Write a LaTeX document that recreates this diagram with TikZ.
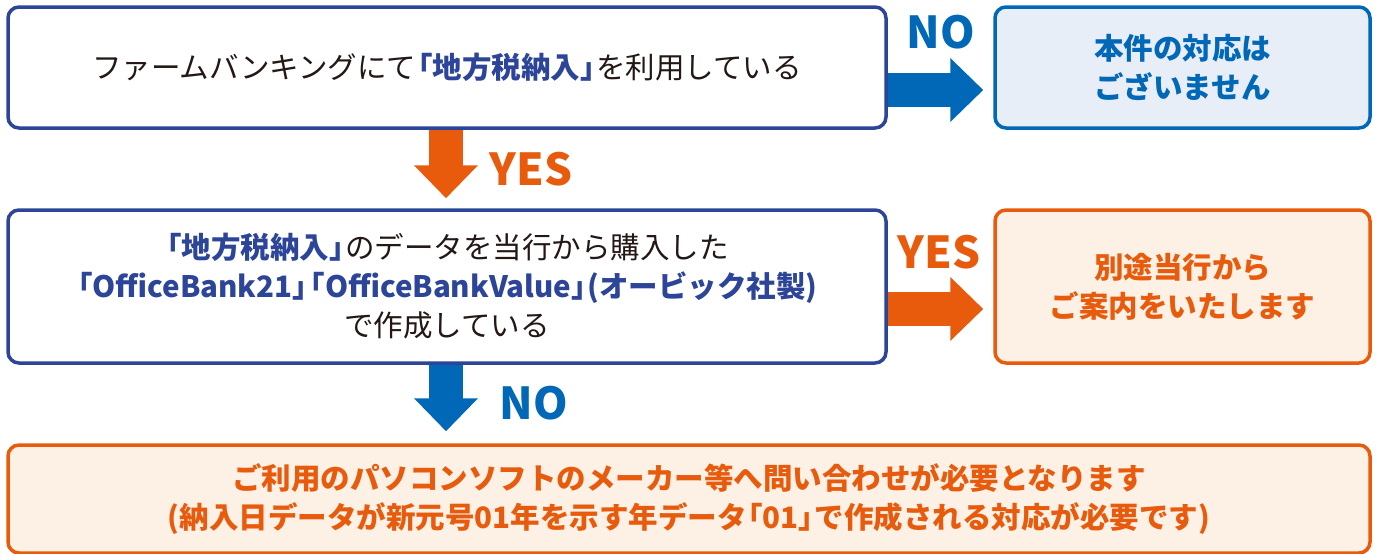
\documentclass[tikz,border=0pt]{standalone}
\usepackage{fontspec}
\setmainfont{Noto Sans CJK JP}
\usetikzlibrary{arrows.meta,calc}
\definecolor{dkblue}{HTML}{2C4598}
\definecolor{mblue}{HTML}{0068B6}
\definecolor{orng}{HTML}{E85A0C}
\definecolor{lorng}{HTML}{FDF0E5}
\definecolor{lblue}{HTML}{E8EEF8}
\definecolor{txt}{HTML}{231815}
\tikzset{
  box/.style={draw, line width=3.5pt, rounded corners=11pt, align=center, inner sep=0pt,
    font=\fontsize{29.5}{39}\selectfont, text=txt},
  colbox/.style={box, font=\fontsize{29.5}{39}\selectfont\bfseries},
  blockarrow/.style={line width=34pt, -{Triangle[length=33pt,width=62pt]}},
  lbl/.style={font=\fontsize{44}{44}\selectfont\bfseries, inner sep=0pt}
}
\newcommand{\lbr}{\makebox[0.55em][r]{「}}
\newcommand{\rbr}{\makebox[0.55em][l]{」}}
\newcommand{\hb}[1]{\textcolor{dkblue}{\bfseries #1}}
\begin{document}
\begin{tikzpicture}[x=1pt,y=-1pt]
\useasboundingbox (0,0) rectangle (1376,554);
\node[box, draw=dkblue, fill=white, minimum width=878pt, minimum height=121pt] (q1) at (447,67.5)
  {ファームバンキングにて\hb{\lbr 地方税納入\rbr}を利用している};
\node[colbox, draw=mblue, fill=lblue, text=mblue, minimum width=375pt, minimum height=121pt] (r1) at (1182.5,67.5)
  {本件の対応は\\ございません};
\node[box, draw=dkblue, fill=white, minimum width=878pt, minimum height=153pt] (q2) at (447,286.5)
  {\hb{\lbr 地方税納入\rbr}のデータを当行から購入した\\
   \hb{\lbr OfficeBank21\rbr\lbr OfficeBankValue\rbr(オービック社製)}\\
   で作成している};
\node[colbox, draw=orng, fill=lorng, text=orng, minimum width=375pt, minimum height=153pt] (r2) at (1182.5,286.5)
  {別途当行から\\ご案内をいたします};
\node[colbox, draw=orng, fill=lorng, text=orng, minimum width=1362pt, minimum height=108pt] (r3) at (689,499)
  {ご利用のパソコンソフトのメーカー等へ問い合わせが必要となります\\
   (納入日データが新元号01年を示す年データ\lbr 01\rbr で作成される対応が必要です)};
% arrows
\draw[blockarrow, draw=mblue, fill=mblue] ($(q1.east)+(0,22.5)$) -- ($(r1.west)+(-10,22.5)$);
\draw[blockarrow, draw=orng, fill=orng] ($(q2.east)+(0,22.5)$) -- ($(r2.west)+(-10,22.5)$);
\draw[blockarrow, draw=orng, fill=orng] ($(q1.south)+(-1,0)$) -- ($(q2.north)+(-1,-10)$);
\draw[blockarrow, draw=mblue, fill=mblue] ($(q2.south)+(-1,0)$) -- ($(r3.north)+(-243,-12)$);
% labels
\node[lbl, text=mblue] (lno1) at (941,32) {NO};
\node[lbl, text=orng] (lyes1) at (531,169) {YES};
\node[lbl, text=orng] (lyes2) at (939,252) {YES};
\node[lbl, text=mblue] (lno2) at (534,403) {NO};
\end{tikzpicture}
\end{document}
